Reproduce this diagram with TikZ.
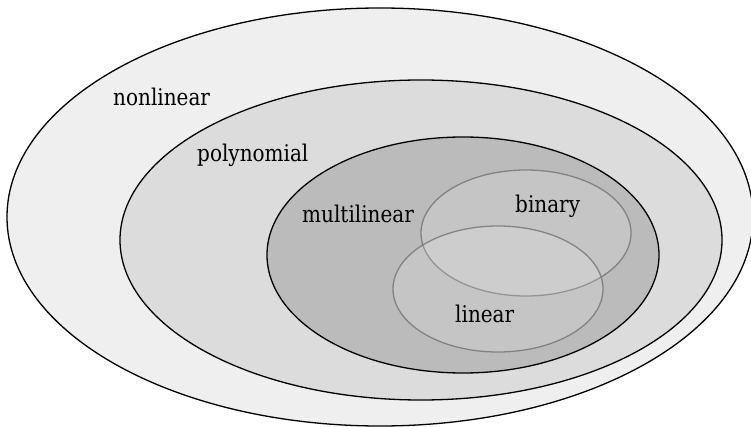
\documentclass[tikz,border=0pt]{standalone}
\usepackage{fontspec}
\setmainfont[FakeStretch=0.87]{DejaVu Serif}
\begin{document}
\begin{tikzpicture}[x=1pt,y=-1pt,
  bigset/.style={draw=black, line width=1.3pt},
  smallset/.style={draw=black!55, draw opacity=0.8, line width=1.3pt, fill=white, fill opacity=0.15},
  lab/.style={font=\fontsize{23}{27}\selectfont, text=black, inner sep=0pt, anchor=base west}]
\useasboundingbox (0,0) rectangle (751,427);
\fill[white] (0,0) rectangle (751,427);
\path[bigset, fill={rgb,255:red,239;green,239;blue,239}] (380,217) ellipse [x radius=373, y radius=209];
\path[bigset, fill={rgb,255:red,220;green,220;blue,220}] (421,240) ellipse [x radius=301, y radius=160];
\path[bigset, fill={rgb,255:red,187;green,187;blue,187}] (463,255) ellipse [x radius=196, y radius=118];
\path[smallset] (526,233) ellipse [x radius=105, y radius=63];
\path[smallset] (498,289) ellipse [x radius=105, y radius=63];
\node[lab] (nonlin) at (113,106) {nonlinear};
\node[lab] (poly) at (197,162) {polynomial};
\node[lab] (multi) at (302,223) {multilinear};
\node[lab] (bin) at (515,213) {binary};
\node[lab] (lin) at (455,322) {linear};
\end{tikzpicture}
\end{document}
